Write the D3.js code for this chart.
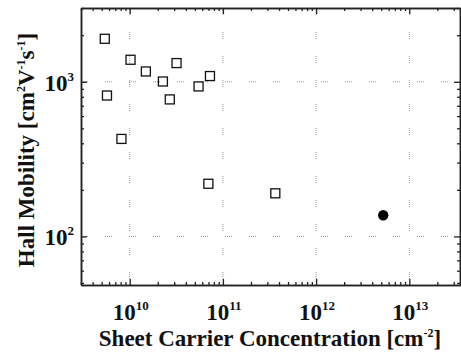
<!DOCTYPE html>
<html>
<head>
<meta charset="utf-8">
<script src="https://cdn.jsdelivr.net/npm/d3@7"></script>
<style>
body { margin: 0; background: #fff; }
</style>
</head>
<body>
<div id="chart"></div>
<script>
//// data
const openX = [5.4e9, 5.7e9, 8.15e9, 1.02e10, 1.49e10, 2.27e10, 2.69e10, 3.18e10, 5.48e10, 7.26e10, 6.98e10, 3.65e11]
const openY = [1897, 815, 427, 1388, 1166, 1004, 769, 1321, 933, 1089, 219, 190]
const filledX = [5.25e12]
const filledY = [137]
const xDecades = [10, 11, 12, 13]
const yDecades = [2, 3]
const xTitle = "Sheet Carrier Concentration [cm"
const yTitle = "Hall Mobility [cm"

const width = 461, height = 356
const margin = {top: 8, right: 1, bottom: 71, left: 81}

let x = d3.scaleLog().domain([3e9, 3.5e13]).range([margin.left, width - margin.right])
let y = d3.scaleLog().domain([48.5, 3000]).range([height - margin.bottom, margin.top])

// minor tick values: 2..9 for every decade inside the domain
function minors(scale) {
    let d = scale.domain()
    let out = []
    for (let e = Math.floor(Math.log10(d[0])); e <= Math.ceil(Math.log10(d[1])); e++) {
        for (let m = 2; m <= 9; m++) {
            let v = m * Math.pow(10, e)
            if (v >= d[0] && v <= d[1]) out.push(v)
        }
    }
    return out
}
let xMajor = xDecades.map(e => Math.pow(10, e))
let yMajor = yDecades.map(e => Math.pow(10, e))

const svg = d3.select("#chart").append("svg")
    .attr("width", width)
    .attr("height", height)

let plotBottom = height - margin.bottom, plotTop = margin.top
let plotLeft = margin.left, plotRight = width - margin.right

//// dotted grid at the decades
let gridDash = "1,1,1,1,1,1,1,17"
svg.append("g").selectAll("line")
    .data(xMajor)
    .join("line")
    .attr("x1", d => x(d)).attr("x2", d => x(d))
    .attr("y1", plotTop).attr("y2", plotBottom)
    .attr("stroke", "#999").attr("stroke-width", 1)
    .attr("stroke-dasharray", gridDash)
svg.append("g").selectAll("line")
    .data(yMajor)
    .join("line")
    .attr("y1", d => y(d)).attr("y2", d => y(d))
    .attr("x1", plotLeft).attr("x2", plotRight)
    .attr("stroke", "#999").attr("stroke-width", 1)
    .attr("stroke-dasharray", gridDash)

//// axes, ticks pointing inward on all four sides
function styleAxis(g) {
    g.selectAll("text").remove()
    g.select(".domain").attr("stroke", "#222").attr("stroke-width", 1.5)
    g.selectAll(".tick line").attr("stroke", "#222").attr("stroke-width", 1.3)
}
svg.append("g").attr("transform", `translate(0,${plotBottom})`)
    .call(d3.axisBottom(x).tickValues(xMajor).tickSizeInner(-6).tickSizeOuter(0)).call(styleAxis)
svg.append("g").attr("transform", `translate(0,${plotBottom})`)
    .call(d3.axisBottom(x).tickValues(minors(x)).tickSizeInner(-3).tickSizeOuter(0)).call(styleAxis)
svg.append("g").attr("transform", `translate(0,${plotTop})`)
    .call(d3.axisTop(x).tickValues(xMajor).tickSizeInner(-6).tickSizeOuter(0)).call(styleAxis)
svg.append("g").attr("transform", `translate(0,${plotTop})`)
    .call(d3.axisTop(x).tickValues(minors(x)).tickSizeInner(-3).tickSizeOuter(0)).call(styleAxis)
svg.append("g").attr("transform", `translate(${plotLeft},0)`)
    .call(d3.axisLeft(y).tickValues(yMajor).tickSizeInner(-6).tickSizeOuter(0)).call(styleAxis)
svg.append("g").attr("transform", `translate(${plotLeft},0)`)
    .call(d3.axisLeft(y).tickValues(minors(y)).tickSizeInner(-3).tickSizeOuter(0)).call(styleAxis)
svg.append("g").attr("transform", `translate(${plotRight},0)`)
    .call(d3.axisRight(y).tickValues(yMajor).tickSizeInner(-6).tickSizeOuter(0)).call(styleAxis)
svg.append("g").attr("transform", `translate(${plotRight},0)`)
    .call(d3.axisRight(y).tickValues(minors(y)).tickSizeInner(-3).tickSizeOuter(0)).call(styleAxis)

//// tick labels 10^n
let font = "'Liberation Serif', 'Times New Roman', serif"
let xl = svg.append("g").selectAll("text")
    .data(xDecades)
    .join("text")
    .attr("x", d => x(Math.pow(10, d)) + 1)
    .attr("y", plotBottom + 35)
    .attr("text-anchor", "middle")
    .attr("font-family", font).attr("font-weight", "bold").attr("font-size", 23)
    .attr("fill", "#111")
xl.append("tspan").text("10")
xl.append("tspan").attr("dy", -10).attr("font-size", 13).text(d => d)

let yl = svg.append("g").selectAll("text")
    .data(yDecades)
    .join("text")
    .attr("x", plotLeft - 7)
    .attr("y", d => y(Math.pow(10, d)) + 9)
    .attr("text-anchor", "end")
    .attr("font-family", font).attr("font-weight", "bold").attr("font-size", 23)
    .attr("fill", "#111")
yl.append("tspan").text("10")
yl.append("tspan").attr("dy", -10).attr("font-size", 13).text(d => d)

//// axis titles
let xt = svg.append("text")
    .attr("x", 270)
    .attr("y", 346)
    .attr("text-anchor", "middle")
    .attr("font-family", font).attr("font-weight", "bold").attr("font-size", 23)
    .attr("fill", "#111")
xt.append("tspan").text(xTitle)
xt.append("tspan").attr("dy", -9).attr("font-size", 12).text("-2")
xt.append("tspan").attr("dy", 9).text("]")

let yt = svg.append("text")
    .attr("transform", `translate(34,150) rotate(-90)`)
    .attr("text-anchor", "middle")
    .attr("font-family", font).attr("font-weight", "bold").attr("font-size", 23)
    .attr("fill", "#111")
yt.append("tspan").text(yTitle)
yt.append("tspan").attr("dy", -9).attr("font-size", 12).text("2")
yt.append("tspan").attr("dy", 9).text("V")
yt.append("tspan").attr("dy", -9).attr("font-size", 12).text("-1")
yt.append("tspan").attr("dy", 9).text("s")
yt.append("tspan").attr("dy", -9).attr("font-size", 12).text("-1")
yt.append("tspan").attr("dy", 9).text("]")

//// markers
let openData = openX.map((v, i) => ({x: v, y: openY[i]}))
let filledData = filledX.map((v, i) => ({x: v, y: filledY[i]}))
let s = 9
svg.append("g").selectAll("rect")
    .data(openData)
    .join("rect")
    .attr("x", d => x(d.x) - s / 2)
    .attr("y", d => y(d.y) - s / 2)
    .attr("width", s).attr("height", s)
    .attr("fill", "none")
    .attr("stroke", "#111")
    .attr("stroke-width", 1.3)
svg.append("g").selectAll("circle")
    .data(filledData)
    .join("circle")
    .attr("cx", d => x(d.x))
    .attr("cy", d => y(d.y))
    .attr("r", 5.2)
    .attr("fill", "#000")
</script>
</body>
</html>
